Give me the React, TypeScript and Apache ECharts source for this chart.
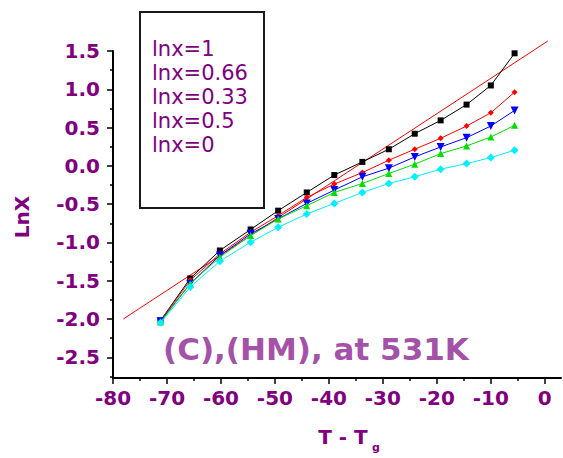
import { useEffect, useRef } from 'react';
import * as echarts from 'echarts';

const xValues = [-71.2, -65.7, -60.2, -54.5, -49.4, -44.1, -39.0, -33.8, -28.9, -24.1, -19.3, -14.5, -10.0, -5.6];
const seriesNames = ['lnx=1', 'lnx=0.66', 'lnx=0.33', 'lnx=0.5', 'lnx=0'];
const yLnx1 = [-2.02, -1.47, -1.105, -0.83, -0.585, -0.347, -0.12, 0.052, 0.217, 0.42, 0.594, 0.8, 1.05, 1.47];
const yLnx066 = [-2.025, -1.495, -1.149, -0.867, -0.65, -0.412, -0.238, -0.087, 0.074, 0.217, 0.36, 0.52, 0.693, 0.962];
const yLnx033 = [-2.03, -1.539, -1.17, -0.888, -0.693, -0.49, -0.316, -0.143, -0.03, 0.117, 0.247, 0.368, 0.52, 0.724];
const yLnx05 = [-2.04, -1.539, -1.192, -0.91, -0.693, -0.52, -0.347, -0.23, -0.1, 0.022, 0.16, 0.26, 0.377, 0.529];
const yLnx0 = [-2.05, -1.582, -1.244, -0.997, -0.802, -0.628, -0.49, -0.347, -0.23, -0.143, -0.043, 0.03, 0.108, 0.204];
const fitX = [-78.1, 0.55];
const fitY = [-2.0, 1.63];

const yMajorTicks = [-2.5, -2, -1.5, -1, -0.5, 0, 0.5, 1, 1.5];
const yMinorTicks = [-2.75, -2.25, -1.75, -1.25, -0.75, -0.25, 0.25, 0.75, 1.25];
const xMajorTicks = [-80, -70, -60, -50, -40, -30, -20, -10, 0];
const xMinorTicks = [-75, -65, -55, -45, -35, -25, -15, -5];

const titleText = '(C),(HM), at 531K';
const yTitle = 'LnX';
const xTitleMain = 'T - T';
const xTitleSub = 'g';

const PURPLE = '#800080';
const FONT = 'DejaVu Sans';

export default function App() {
  const ref = useRef<HTMLDivElement>(null);
  useEffect(() => {
    if (!ref.current) return;
    const chart = echarts.init(ref.current, undefined, { renderer: 'svg' });
    const zip = (ys: number[]) => xValues.map((x, i) => [x, ys[i]]);
    const dataSets = [yLnx1, yLnx066, yLnx033, yLnx05, yLnx0];
    const colors = ['#000000', '#ff0000', '#0000ff', '#00e000', '#00f0ff'];
    const symbols = ['rect', 'diamond', 'triangle', 'triangle', 'diamond'];
    const sizes = [6, 6, 8, 7, 8];
    const rotates = [0, 0, 180, 0, 0];

    const labelBase = {
      color: PURPLE, fontSize: 20, fontWeight: 'bold' as const, fontFamily: FONT,
    };

    const dataSeries = seriesNames.map((name, k) => ({
      name,
      type: 'line' as const,
      data: zip(dataSets[k]),
      symbol: symbols[k],
      symbolSize: sizes[k],
      symbolRotate: rotates[k],
      showSymbol: true,
      lineStyle: { color: colors[k], width: 1 },
      itemStyle: { color: colors[k] },
      z: 3 + k,
      clip: false,
    }));

    const legendTexts = seriesNames.map((name, i) => ({
      type: 'text' as const,
      x: 152,
      y: 49 + i * 24,
      style: {
        text: name, fill: PURPLE, fontSize: 21, fontFamily: FONT,
        align: 'left', verticalAlign: 'middle',
      },
      z: 101,
    }));

    chart.setOption({
      animation: false,
      grid: { left: 113, right: 2, top: 51, bottom: 80, containLabel: false },
      xAxis: [
        {
          type: 'value', min: -80, max: 3, position: 'bottom',
          axisLine: { show: true, onZero: false, lineStyle: { color: '#000', width: 2 } },
          axisTick: { show: true, customValues: xMajorTicks, length: 6, inside: false, lineStyle: { color: '#000', width: 1.5 } },
          axisLabel: { ...labelBase, customValues: xMajorTicks, margin: 10, formatter: (v: number) => String(v) },
          splitLine: { show: false },
        },
        {
          type: 'value', min: -80, max: 3, position: 'bottom',
          axisLine: { show: false, onZero: false },
          axisTick: { show: true, customValues: xMinorTicks, length: 3, inside: false, lineStyle: { color: '#000', width: 1.5 } },
          axisLabel: { show: false },
          splitLine: { show: false },
        },
      ],
      yAxis: [
        {
          type: 'value', min: -2.77, max: 1.5, position: 'left',
          axisLine: { show: true, onZero: false, lineStyle: { color: '#000', width: 2 } },
          axisTick: { show: true, customValues: yMajorTicks, length: 6, inside: false, lineStyle: { color: '#000', width: 1.5 } },
          axisLabel: { ...labelBase, customValues: yMajorTicks, margin: 13, formatter: (v: number) => v.toFixed(1) },
          splitLine: { show: false },
        },
        {
          type: 'value', min: -2.77, max: 1.5, position: 'left',
          axisLine: { show: false, onZero: false },
          axisTick: { show: true, customValues: yMinorTicks, length: 3, inside: false, lineStyle: { color: '#000', width: 1.5 } },
          axisLabel: { show: false },
          splitLine: { show: false },
        },
      ],
      series: [
        {
          name: 'fit',
          type: 'line',
          data: fitX.map((x, i) => [x, fitY[i]]),
          symbol: 'none',
          lineStyle: { color: '#ff0000', width: 1 },
          z: 2,
          clip: false,
        },
        ...dataSeries,
      ],
      graphic: [
        {
          type: 'rect',
          shape: { x: 140, y: 12, width: 124, height: 196 },
          style: { fill: '#fff', stroke: '#1a1a1a', lineWidth: 2 },
          z: 100,
        },
        ...legendTexts,
        {
          type: 'text', x: 163, y: 349,
          style: {
            text: titleText, fill: '#a452a8', fontSize: 31, fontWeight: 'bold', fontFamily: FONT,
            align: 'left', verticalAlign: 'middle',
          },
          z: 101,
        },
        {
          type: 'text', x: 22, y: 217, rotation: Math.PI / 2,
          style: {
            text: yTitle, fill: PURPLE, fontSize: 20, fontWeight: 'bold', fontFamily: FONT,
            align: 'center', verticalAlign: 'middle',
          },
          z: 101,
        },
        {
          type: 'text', x: 343, y: 437,
          style: {
            text: xTitleMain, fill: PURPLE, fontSize: 20, fontWeight: 'bold', fontFamily: FONT,
            align: 'center', verticalAlign: 'middle',
          },
          z: 101,
        },
        {
          type: 'text', x: 372, y: 447,
          style: {
            text: xTitleSub, fill: PURPLE, fontSize: 11, fontWeight: 'bold', fontFamily: FONT,
            align: 'left', verticalAlign: 'middle',
          },
          z: 101,
        },
      ],
    });
    return () => chart.dispose();
  }, []);
  return <div ref={ref} style={{ width: 563, height: 458, position: 'absolute', left: 0, top: 0 }} />;
}
